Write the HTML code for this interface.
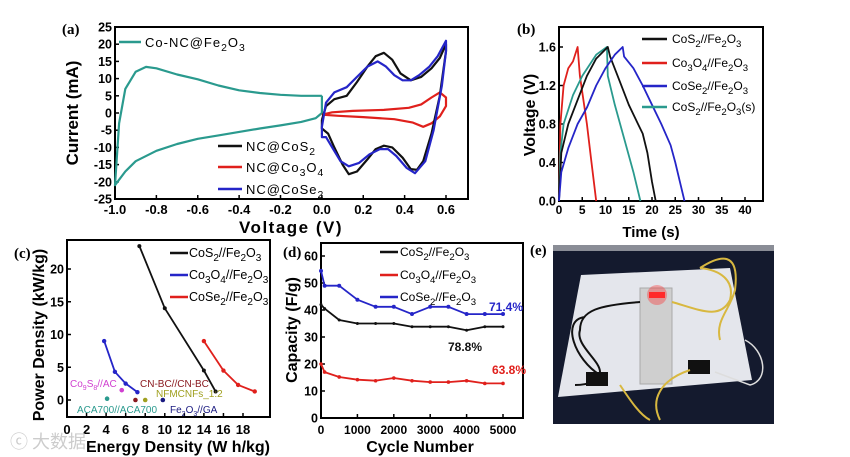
<!DOCTYPE html>
<html><head><meta charset="utf-8"><style>
html,body{margin:0;padding:0;background:#fff;}
svg{display:block;font-family:"Liberation Sans",Arial,sans-serif;font-weight:bold;}
.t{font-family:"Liberation Serif",serif;font-weight:bold;font-size:15px;}
</style></head><body>
<svg id="fig" width="850" height="457" viewBox="0 0 850 457" xmlns="http://www.w3.org/2000/svg">
<g id="pa"></g>
<g id="pb"></g>
<g id="pc"></g>
<g id="pd"></g>
<g id="pe">
  <rect x="553" y="245" width="221" height="179" fill="#141a2e"/>
  <rect x="553" y="245" width="221" height="6" fill="#8a8d96"/>
  <polygon points="581,275 730,268 752,380 558,397" fill="#e4e6ec"/>
  <rect x="640" y="288" width="32" height="96" fill="#cfcfcf" stroke="#aaa"/>
  <rect x="649" y="292" width="16" height="6" fill="#ff3030"/>
  <circle cx="657" cy="295" r="10" fill="#ff2020" opacity="0.35"/>
  <path d="M640,302 C600,305 580,310 580,330 C575,345 600,360 600,372 C600,380 590,385 575,385 M585,317 C560,320 575,360 600,375" fill="none" stroke="#111" stroke-width="2"/>
  <rect x="586" y="372" width="22" height="14" fill="#111"/>
  <rect x="688" y="360" width="22" height="14" fill="#111"/>
  <path d="M672,302 C700,310 720,320 730,300 C735,280 720,270 700,268 M700,268 C720,255 740,250 735,290 C730,310 715,320 720,340 M620,385 C630,400 640,415 650,420 M690,370 C660,380 650,400 660,420" fill="none" stroke="#d8b840" stroke-width="2"/>
  <path d="M745,340 C765,350 770,380 750,385 L715,372" fill="none" stroke="#ddd" stroke-width="1.5"/>
</g>
<text x="10" y="448" fill="#ccc" font-size="18" style="font-family:'Noto Sans CJK SC',sans-serif;font-weight:normal">ⓒ 大数据</text>
</svg>
<script>
// ---------- Panel (a) data ----------
var aTealV=[0,-0.1,-0.2,-0.3,-0.4,-0.5,-0.6,-0.7,-0.8,-0.85,-0.9,-0.95,-0.98,-1.0,-0.95,-0.9,-0.8,-0.7,-0.6,-0.5,-0.4,-0.3,-0.2,-0.1,-0.03,0,0];
var aTealI=[5,5,5.3,5.8,6.6,8,9.8,11.2,13,13.4,12,7,-3,-21,-17,-14,-11,-9,-7.5,-6.5,-5.5,-4.5,-3.6,-2.6,-1.5,0,5];
var aBlackV=[0,0.02,0.06,0.12,0.17,0.22,0.26,0.3,0.34,0.38,0.43,0.48,0.53,0.57,0.6,0.6,0.57,0.53,0.49,0.46,0.43,0.39,0.34,0.3,0.26,0.22,0.17,0.13,0.1,0.06,0.03,0,0];
var aBlackI=[-2,2,4,5,9,13.5,16.5,17.5,15.5,11.5,9.5,10.5,13,16,20,18,5,-6,-14,-16.5,-16.3,-13,-10,-9.5,-10.5,-13.5,-17,-17.8,-15,-10,-6,-4.5,-2];
var aBlueV=[0,0.02,0.06,0.12,0.17,0.22,0.27,0.31,0.35,0.39,0.43,0.47,0.52,0.56,0.6,0.6,0.58,0.54,0.5,0.45,0.41,0.36,0.32,0.28,0.23,0.18,0.13,0.09,0.05,0.02,0,0];
var aBlueI=[-4,3,6,7.5,10.5,13.5,15,13.5,11,9.5,9.5,11,13.5,16.5,21,18,8,-5,-14,-17.5,-16,-12.5,-10.5,-10.5,-12,-14.5,-15.5,-14,-10,-7,-7,-4];
var aRedV=[0,0.05,0.15,0.3,0.42,0.48,0.53,0.57,0.6,0.6,0.57,0.53,0.49,0.44,0.35,0.2,0.08,0];
var aRedI=[-0.5,0.2,0.6,0.9,1.5,2.5,4.5,6,4.5,2,-1,-3,-4,-2.8,-1.8,-1.2,-0.8,-0.5];
var aYTicks=[25,20,15,10,5,0,-5,-10,-15,-20,-25];
var aXTicks=[-1.0,-0.8,-0.6,-0.4,-0.2,0.0,0.2,0.4,0.6];
// ---------- Panel (b) data ----------
var bBlackT=[0,0.5,2,4,6,8,10.5,11,13,15,17,18,19,20,20.8];
var bBlackV=[0,0.5,0.8,1.05,1.3,1.48,1.6,1.5,1.25,1.0,0.8,0.7,0.5,0.2,0];
var bRedT=[0,0.3,1,2,3,4,4.5,6,7,8];
var bRedV=[0,0.8,1.2,1.38,1.45,1.6,1.3,0.8,0.4,0];
var bBlueT=[0,0.5,2,4,6,8,10,12,13.7,14,16,18,20,22,24,25,26,27];
var bBlueV=[0,0.3,0.55,0.8,0.97,1.2,1.38,1.52,1.6,1.5,1.38,1.2,1.0,0.8,0.58,0.4,0.2,0];
var bTealT=[0,0.3,1,3,5,8,10.3,10.5,12,14,16,17.5];
var bTealV=[0,0.5,0.8,1.1,1.3,1.52,1.6,1.3,1.0,0.65,0.3,0];
var bXTicks=[0,5,10,15,20,25,30,35,40];
var bYTicks=[0.0,0.4,0.8,1.2,1.6];
// ---------- Panel (c) data ----------
var cBlackE=[7.4,10,14,15.2], cBlackP=[23.5,14,4.5,1.3];
var cBlueE=[3.8,4.9,6,7.2], cBlueP=[9,4.3,2.5,1.2];
var cRedE=[14,16,17.5,19.2], cRedP=[9,4.5,2.3,1.3];
var cRefNames=["Co9S8//AC","ACA700//ACA700","CN-BC//CN-BC","NFMCNFs_1:2","Fe2O3//GA"];
var cRefE=[5.6,4.1,7,8,9.8], cRefP=[1.5,0.2,0,0,0];
var cXTicks=[0,2,4,6,8,10,12,14,16,18];
var cYTicks=[0,5,10,15,20];
// ---------- Panel (d) data ----------
var dCycles=[0,100,500,1000,1500,2000,2500,3000,3500,4000,4500,5000];
var dBlack=[42,40.5,36.3,35,35,35,33.8,33.8,33.8,32.5,33.8,33.8];
var dBlue=[54.5,49,49,43.8,41.2,41.2,38.5,41.2,41.2,38.5,38.5,38.5];
var dRed=[20,17,15.2,14.2,13.8,14.8,13.8,13.3,13.3,13.8,12.8,12.8];
var dXTicks=[0,1000,2000,3000,4000,5000];
var dYTicks=[0,10,20,30,40,50,60];

var NS="http://www.w3.org/2000/svg";
function mk(p,tag,at,txt){var e=document.createElementNS(NS,tag);for(var k in at)e.setAttribute(k,at[k]);if(txt!=null)e.textContent=txt;p.appendChild(e);return e;}
function lin(d0,d1,r0,r1){return function(v){return r0+(v-d0)*(r1-r0)/(d1-d0);};}
function line(g,xs,ys,X,Y,col,w,name){var d="";for(var i=0;i<xs.length;i++)d+=(i?"L":"M")+X(xs[i]).toFixed(1)+","+Y(ys[i]).toFixed(1);var p=mk(g,"path",{d:d,fill:"none",stroke:col,"stroke-width":w,"stroke-linejoin":"round"});


return p;}
function dots(g,xs,ys,X,Y,col,r,name){for(var i=0;i<xs.length;i++){var c=mk(g,"circle",{cx:X(xs[i]),cy:Y(ys[i]),r:r,fill:col});

}}
function frame(g,x0,y0,x1,y1,name){var r=mk(g,"rect",{x:x0,y:y0,width:x1-x0,height:y1-y0,fill:"none",stroke:"#000","stroke-width":2});

}
function yTicks(g,ticks,Y,x0,fmt,fs,name){ticks.forEach(function(v){mk(g,"line",{x1:x0,x2:x0+4,y1:Y(v),y2:Y(v),stroke:"#000","stroke-width":1.5});var t=mk(g,"text",{x:x0-3,y:Y(v)+4.5,"text-anchor":"end","font-size":fs},fmt(v));

});}
function xTicks(g,ticks,X,y0,ly,fmt,fs,name){ticks.forEach(function(v){mk(g,"line",{x1:X(v),x2:X(v),y1:y0,y2:y0-4,stroke:"#000","stroke-width":1.5});var t=mk(g,"text",{x:X(v),y:ly,"text-anchor":"middle","font-size":fs},fmt(v));

});}
function txt(g,x,y,s,at,name){var t=mk(g,"text",Object.assign({x:x,y:y},at||{}));t.innerHTML=s;

return t;}
function leg(g,x0,x1,y,col,name){var l=mk(g,"line",{x1:x0,x2:x1,y1:y,y2:y,stroke:col,"stroke-width":2.5});

}
var SUB='<tspan dy="4" font-size="0.8em">', ES='</tspan><tspan dy="-4">', END='</tspan>';
function f(s){return s.replace(/_(\d)/g,SUB+'$1'+ES)+END;}

// ===== Panel a =====
(function(){var g=document.getElementById("pa");var X=lin(-1,0.6,115,446),Y=lin(-25,25,199,27);
frame(g,115,27,468,199,"plot-frame-a");
yTicks(g,aYTicks,Y,115,function(v){return v;},12.5,"y-tick-label-a");
xTicks(g,aXTicks,X,199,214,function(v){return v.toFixed(1);},13,"x-tick-label-a");
line(g,aTealV,aTealI,X,Y,"#2a9a8e",2.2,"series-co-nc-fe2o3");
line(g,aRedV,aRedI,X,Y,"#e0201c",2.2,"series-nc-co3o4");
line(g,aBlackV,aBlackI,X,Y,"#111",2.2,"series-nc-cos2");
line(g,aBlueV,aBlueI,X,Y,"#2525c8",2.2,"series-nc-cose2");
txt(g,62,34,"(a)",{"class":"t"},"panel-label-a");
txt(g,0,0,"Current (mA)",{"font-size":17,transform:"translate(78,113) rotate(-90)","text-anchor":"middle"},"y-axis-title-a");
txt(g,291,233,"Voltage (V)",{"font-size":17,"text-anchor":"middle","letter-spacing":"1.5"},"x-axis-title-a");
leg(g,119,141,42,"#2a9a8e","legend-line-teal");
txt(g,145,47,f("Co-NC@Fe_2O_3"),{"font-size":13,"letter-spacing":"1","font-weight":"normal"},"legend-co-nc-fe2o3");
leg(g,218,242,146,"#111","legend-line-black");
txt(g,246,151,f("NC@CoS_2"),{"font-size":13,"letter-spacing":"1","font-weight":"normal"},"legend-nc-cos2");
leg(g,218,242,167,"#e0201c","legend-line-red");
txt(g,246,172,f("NC@Co_3O_4"),{"font-size":13,"letter-spacing":"1","font-weight":"normal"},"legend-nc-co3o4");
leg(g,218,242,189,"#2525c8","legend-line-blue");
txt(g,246,194,f("NC@CoSe_2"),{"font-size":13,"letter-spacing":"1","font-weight":"normal"},"legend-nc-cose2");
})();
// ===== Panel b =====
(function(){var g=document.getElementById("pb");var X=lin(0,40,559,745),Y=lin(0,1.6,201,47);
frame(g,559,27,763,201,"plot-frame-b");
yTicks(g,bYTicks,Y,559,function(v){return v.toFixed(1);},12.5,"y-tick-label-b");
xTicks(g,bXTicks,X,201,214,function(v){return v;},12,"x-tick-label-b");
line(g,bRedT,bRedV,X,Y,"#e0201c",1.8,"series-co3o4-fe2o3");
line(g,bTealT,bTealV,X,Y,"#2a9a8e",1.8,"series-cos2-fe2o3-s");
line(g,bBlackT,bBlackV,X,Y,"#111",1.8,"series-cos2-fe2o3");
line(g,bBlueT,bBlueV,X,Y,"#2525c8",1.8,"series-cose2-fe2o3");
txt(g,517,34,"(b)",{"class":"t"},"panel-label-b");
txt(g,0,0,"Voltage (V)",{"font-size":16,transform:"translate(535,115) rotate(-90)","text-anchor":"middle"},"y-axis-title-b");
txt(g,651,237,"Time (s)",{"font-size":15,"text-anchor":"middle"},"x-axis-title-b");
var L=[["CoS_2//Fe_2O_3","#111"],["Co_3O_4//Fe_2O_3","#e0201c"],["CoSe_2//Fe_2O_3","#2525c8"],["CoS_2//Fe_2O_3(s)","#2a9a8e"]],ly=[39,63,86,107];
L.forEach(function(l,i){leg(g,642,667,ly[i],l[1],"legend-line-b");txt(g,672,ly[i]+4,f(l[0]),{"font-size":12,"font-weight":"normal"},"legend-entry-b");});
})();
// ===== Panel c =====
(function(){var g=document.getElementById("pc");var X=lin(0,18,67,243),Y=lin(0,20,400,269);
frame(g,67,240,270,417,"plot-frame-c");
yTicks(g,cYTicks,Y,67,function(v){return v;},12.5,"y-tick-label-c");
xTicks(g,cXTicks,X,417,434,function(v){return v;},13,"x-tick-label-c");
line(g,cBlackE,cBlackP,X,Y,"#111",1.8,"series-cos2-fe2o3");dots(g,cBlackE,cBlackP,X,Y,"#111",2,"point-cos2");
line(g,cBlueE,cBlueP,X,Y,"#2525c8",1.8,"series-co3o4-fe2o3");dots(g,cBlueE,cBlueP,X,Y,"#2525c8",2.2,"point-co3o4");
line(g,cRedE,cRedP,X,Y,"#e0201c",1.8,"series-cose2-fe2o3");dots(g,cRedE,cRedP,X,Y,"#e0201c",2.2,"point-cose2");
var rc=["#d040d0","#2a9a8e","#8a1a20","#a0a020","#1a1a80"];
cRefE.forEach(function(e,i){var c=mk(g,"circle",{cx:X(e),cy:Y(cRefP[i]),r:2.3,fill:rc[i]});

});
var rl=[[70,387,"Co<tspan dy='3' font-size='7'>9</tspan><tspan dy='-3'>S</tspan><tspan dy='3' font-size='7'>8</tspan><tspan dy='-3'>//AC</tspan>"],[77,413,"ACA700//ACA700"],[140,387,"CN-BC//CN-BC"],[156,397,"NFMCNFs_1:2"],[170,413,"Fe<tspan dy='3' font-size='7'>2</tspan><tspan dy='-3'>O</tspan><tspan dy='3' font-size='7'>3</tspan><tspan dy='-3'>//GA</tspan>"]];
rl.forEach(function(r,i){txt(g,r[0],r[1],r[2],{"font-size":10,fill:rc[i],"font-weight":"normal"},"reference-label");});
txt(g,14,258,"(c)",{"class":"t"},"panel-label-c");
txt(g,0,0,"Power Density (kW/kg)",{"font-size":16,transform:"translate(44,335) rotate(-90)","text-anchor":"middle"},"y-axis-title-c");
txt(g,178,452,"Energy Density (W h/kg)",{"font-size":16,"text-anchor":"middle"},"x-axis-title-c");
var L=[["CoS_2//Fe_2O_3","#111"],["Co_3O_4//Fe_2O_3","#2525c8"],["CoSe_2//Fe_2O_3","#e0201c"]],ly=[253,275,297];
L.forEach(function(l,i){leg(g,170,188,ly[i],l[1],"legend-line-c");txt(g,189,ly[i]+4,f(l[0]),{"font-size":12.5,"font-weight":"normal"},"legend-entry-c");});
})();
// ===== Panel d =====
(function(){var g=document.getElementById("pd");var X=lin(0,5000,321,503),Y=lin(0,60,418,256);
frame(g,321,243,523,418,"plot-frame-d");
yTicks(g,dYTicks,Y,321,function(v){return v;},12.5,"y-tick-label-d");
xTicks(g,dXTicks,X,418,434,function(v){return v;},12,"x-tick-label-d");
line(g,dCycles,dBlack,X,Y,"#111",1.8,"series-cos2-fe2o3");dots(g,dCycles,dBlack,X,Y,"#111",1.5,"point-cos2");
line(g,dCycles,dBlue,X,Y,"#2525c8",1.8,"series-cose2-fe2o3");dots(g,dCycles,dBlue,X,Y,"#2525c8",2,"point-cose2");
line(g,dCycles,dRed,X,Y,"#e0201c",1.8,"series-co3o4-fe2o3");dots(g,dCycles,dRed,X,Y,"#e0201c",1.8,"point-co3o4");
txt(g,283,257,"(d)",{"class":"t"},"panel-label-d");
txt(g,0,0,"Capacity (F/g)",{"font-size":16,transform:"translate(297,330) rotate(-90)","text-anchor":"middle"},"y-axis-title-d");
txt(g,420,452,"Cycle Number",{"font-size":16,"text-anchor":"middle"},"x-axis-title-d");
var L=[["CoS_2//Fe_2O_3","#111"],["Co_3O_4//Fe_2O_3","#e0201c"],["CoSe_2//Fe_2O_3","#2525c8"]],ly=[252,275,297];
L.forEach(function(l,i){leg(g,380,398,ly[i],l[1],"legend-line-d");txt(g,400,ly[i]+4,f(l[0]),{"font-size":12,"font-weight":"normal"},"legend-entry-d");});
txt(g,489,311,"71.4%",{"font-size":12,fill:"#2525c8"},"retention-cose2");
txt(g,448,351,"78.8%",{"font-size":12,fill:"#111"},"retention-cos2");
txt(g,492,374,"63.8%",{"font-size":12,fill:"#e0201c"},"retention-co3o4");
})();
txt(document.getElementById("pe"),530,255,"(e)",{"class":"t"},"panel-label-e");
</script>
</body></html>
